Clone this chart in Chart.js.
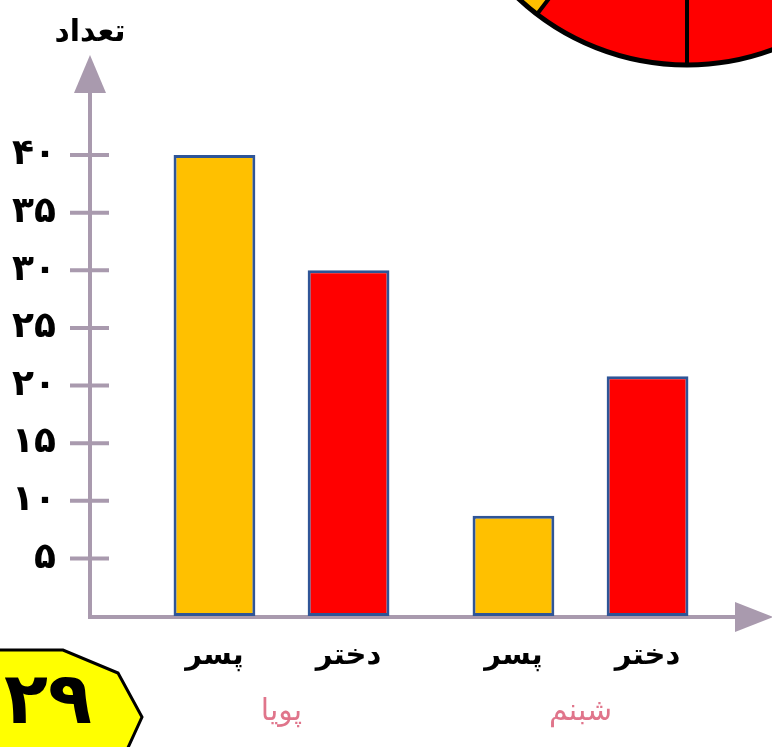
<!DOCTYPE html>
<html lang="fa">
<head>
<meta charset="UTF-8">
<title>تعداد</title>
<script src="https://cdn.jsdelivr.net/npm/chart.js"></script>
<style>
  html, body { margin: 0; padding: 0; background: #fff; }
  canvas { display: block; }
</style>
</head>
<body>
<canvas id="chart" width="772" height="747"></canvas>
<script>
// data
const groups = ['پویا', 'شبنم'];
const genders = ['پسر', 'دختر'];
const boys = [40, 8.7];
const girls = [30, 20.8];
const yTickLabels = ['', '۵', '۱۰', '۱۵', '۲۰', '۲۵', '۳۰', '۳۵', '۴۰'];
const yTitle = 'تعداد';
const badgeText = '۲۹';

const axisColor = '#a99aae';
const FONT = '"DejaVu Sans", sans-serif';

// axes with arrows, tick marks, bar labels and the cut-off figures around the chart
const decorPlugin = {
  id: 'decor',
  beforeDatasetsDraw(chart) {
    const ctx = chart.ctx;
    const y = chart.scales.y;
    const ax = chart.chartArea.left - 42;
    const ay = y.getPixelForValue(0) + 1;
    ctx.save();
    ctx.strokeStyle = axisColor;
    ctx.fillStyle = axisColor;
    ctx.lineWidth = 4;
    ctx.beginPath();
    ctx.moveTo(ax, ay + 2);
    ctx.lineTo(ax, 92);
    ctx.moveTo(ax - 2, ay);
    ctx.lineTo(736, ay);
    for (let v = 5; v <= 40; v += 5) {
      const py = y.getPixelForValue(v);
      ctx.moveTo(ax - 20, py);
      ctx.lineTo(ax + 19, py);
    }
    ctx.stroke();
    // arrow heads
    ctx.beginPath();
    ctx.moveTo(ax - 16, 93);
    ctx.lineTo(ax, 55);
    ctx.lineTo(ax + 16, 93);
    ctx.closePath();
    ctx.fill();
    ctx.beginPath();
    ctx.moveTo(735, ay - 15);
    ctx.lineTo(773, ay);
    ctx.lineTo(735, ay + 15);
    ctx.closePath();
    ctx.fill();
    ctx.restore();
  },
  afterDraw(chart) {
    const ctx = chart.ctx;
    ctx.save();
    // labels under each bar
    ctx.fillStyle = '#000';
    ctx.font = 'bold 29px ' + FONT;
    ctx.textAlign = 'center';
    ctx.textBaseline = 'alphabetic';
    chart.data.datasets.forEach((ds, i) => {
      chart.getDatasetMeta(i).data.forEach(bar => {
        ctx.fillText(genders[i], bar.x, 664);
      });
    });
    // y title
    ctx.font = 'bold 30px ' + FONT;
    ctx.fillText(yTitle, 90, 41);

    // pie from the neighbouring figure
    const cx = 687, cy = -182, r = 247;
    ctx.fillStyle = '#ff0000';
    ctx.beginPath();
    ctx.arc(cx, cy, r, 0, Math.PI * 2);
    ctx.fill();
    ctx.fillStyle = '#ffc000';
    ctx.beginPath();
    ctx.moveTo(cx, cy);
    ctx.arc(cx, cy, r, 127.4 * Math.PI / 180, Math.PI);
    ctx.closePath();
    ctx.fill();
    ctx.strokeStyle = '#000';
    ctx.lineWidth = 5;
    ctx.beginPath();
    ctx.arc(cx, cy, r, 0, Math.PI * 2);
    ctx.stroke();
    ctx.lineWidth = 4;
    ctx.beginPath();
    ctx.moveTo(cx, cy);
    ctx.lineTo(cx, cy + r);
    ctx.moveTo(cx, cy);
    const a = 127.4 * Math.PI / 180;
    ctx.lineTo(cx + r * Math.cos(a), cy + r * Math.sin(a));
    ctx.stroke();

    // page badge
    ctx.fillStyle = '#ffff00';
    ctx.strokeStyle = '#000';
    ctx.lineWidth = 3;
    ctx.beginPath();
    ctx.moveTo(-5, 650);
    ctx.lineTo(63, 650);
    ctx.lineTo(118, 673);
    ctx.lineTo(142, 717);
    ctx.lineTo(126, 752);
    ctx.lineTo(-5, 752);
    ctx.closePath();
    ctx.fill();
    ctx.stroke();
    ctx.fillStyle = '#000';
    ctx.font = 'bold 72px ' + FONT;
    ctx.textAlign = 'center';
    ctx.textBaseline = 'middle';
    ctx.fillText(badgeText, 48, 704);
    ctx.restore();
  }
};

const ctx = document.getElementById('chart').getContext('2d');

new Chart(ctx, {
  type: 'bar',
  data: {
    labels: groups,
    datasets: [
      {
        label: genders[0],
        data: boys,
        backgroundColor: '#ffc000',
        borderColor: '#2f5597',
        borderWidth: 3,
        borderSkipped: false
      },
      {
        label: genders[1],
        data: girls,
        backgroundColor: '#ff0000',
        borderColor: '#2f5597',
        borderWidth: 3,
        borderSkipped: false
      }
    ]
  },
  options: {
    responsive: false,
    animation: false,
    devicePixelRatio: 1,
    layout: { padding: { top: 155, right: 42, left: 0, bottom: 0 } },
    datasets: {
      bar: { categoryPercentage: 0.897, barPercentage: 0.61 }
    },
    scales: {
      x: {
        grid: { display: false },
        border: { display: false },
        ticks: {
          color: '#e0758b',
          font: { family: FONT, size: 30 },
          padding: 70
        },
        afterFit(s) { s.height = 131; }
      },
      y: {
        min: 0,
        max: 40,
        grid: { display: false },
        border: { display: false },
        ticks: {
          stepSize: 5,
          color: '#000',
          font: { family: FONT, size: 36, weight: 'bold' },
          padding: 68,
          callback: (v, i) => yTickLabels[i]
        },
        afterFit(s) { s.width = 132; }
      }
    },
    plugins: {
      legend: { display: false },
      tooltip: { enabled: false }
    }
  },
  plugins: [decorPlugin]
});
</script>
</body>
</html>
